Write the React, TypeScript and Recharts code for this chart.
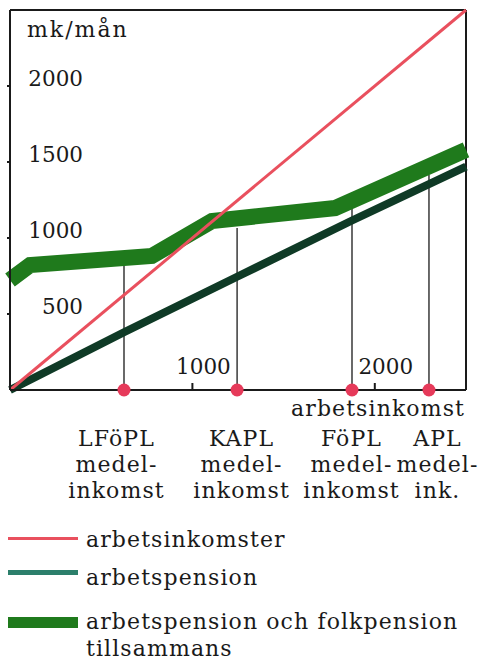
import { LineChart, Line, XAxis, YAxis, ReferenceLine, ReferenceDot } from 'recharts';

// arbetsinkomst (x) och belopp (y), mk/mån
const incomeX = [0, 2500];
const incomeY = [0, 2500];

const pensionX = [0, 625, 1245, 1875, 2500];
const pensionY = [0, 380, 745, 1115, 1470];

const totalX = [0, 110, 778, 1107, 1782, 2500];
const totalY = [724, 822, 882, 1112, 1197, 1580];

const groupNames = ['LFöPL', 'KAPL', 'FöPL', 'APL'];
const groupSub = [['medel-', 'inkomst'], ['medel-', 'inkomst'], ['medel-', 'inkomst'], ['medel-', 'ink.']];
const groupIncome = [625, 1245, 1875, 2297];
const groupLineTop = [816, 1066, 1190, 1414];

const yTicks = [500, 1000, 1500, 2000];
const xTicks = [1000, 2000];

const legendLabels = [['arbetsinkomster'], ['arbetspension'], ['arbetspension och folkpension', 'tillsammans']];

const RED = '#e9505e';
const DARK = '#0f3a26';
const GREEN = '#1f7a1c';
const TEAL = '#2c7f6b';
const INK = '#1a1a1a';
const FONT = '"DejaVu Serif", serif';
const WORD_SPACING = 1.1;

const toPoints = (xs: number[], ys: number[]) => xs.map((x, i) => ({ x, y: ys[i] }));

// label nudges so the text blocks sit like in the print
const groupDx = [-1, 11, 6, 15];

const YTick = ({ x, y, payload }: any) => (
  <text x={x + 78} y={y - 8} textAnchor="end" dominantBaseline="central" fill={INK} fontSize={21.5} fontFamily={FONT}>
    {payload.value}
  </text>
);

const XTick = ({ x, y, payload }: any) => (
  <text x={x + 11} y={y - 15} textAnchor="middle" dominantBaseline="central" fill={INK} fontSize={21.5} fontFamily={FONT}>
    {payload.value}
  </text>
);

const groupLabel = (i: number) => (p: any) => {
  const cx = p.viewBox.x + groupDx[i];
  const cy = p.viewBox.y;
  const lines = [groupNames[i], ...groupSub[i]];
  return (
    <g>
      {lines.map((t, k) => (
        <text key={k} x={cx} y={cy + 55 + k * 26} textAnchor="middle" dominantBaseline="central" fill={INK} fontSize={22} letterSpacing={WORD_SPACING} fontFamily={FONT}>
          {t}
        </text>
      ))}
    </g>
  );
};

export default function App() {
  const swatches = [
    { color: RED, h: 3, mt: 12 },
    { color: TEAL, h: 5, mt: 7 },
    { color: GREEN, h: 11, mt: 10 },
  ];
  const rowTop = [525, 563, 607];

  return (
    <div style={{ position: 'absolute', left: 0, top: 0, width: 483, height: 661, background: '#fff', fontFamily: FONT, overflow: 'hidden' }}>
      <LineChart width={483} height={510} margin={{ top: 10, right: 17, left: 0, bottom: 120 }}>
        <XAxis
          dataKey="x"
          type="number"
          domain={[0, 2500]}
          ticks={xTicks}
          mirror
          height={30}
          tickSize={7}
          stroke={INK}
          strokeWidth={2}
          tick={<XTick />}
        />
        <YAxis
          type="number"
          domain={[0, 2500]}
          ticks={yTicks}
          width={10}
          tickSize={3}
          tickMargin={2}
          stroke={INK}
          strokeWidth={2}
          tick={<YTick />}
          label={(p: any) => (
            <text x={p.viewBox.x + 27} y={p.viewBox.y + 19} dominantBaseline="central" fill={INK} fontSize={22} letterSpacing={2} fontFamily={FONT}>
              mk/mån
            </text>
          )}
        />
        <ReferenceLine y={2500} stroke={INK} strokeWidth={2} />
        <ReferenceLine
          x={2500}
          stroke={INK}
          strokeWidth={2}
          label={(p: any) => (
            <text x={p.viewBox.x - 1} y={p.viewBox.y + p.viewBox.height + 18} textAnchor="end" dominantBaseline="central" fill={INK} fontSize={22} letterSpacing={WORD_SPACING} fontFamily={FONT}>
              arbetsinkomst
            </text>
          )}
        />
        {groupIncome.map((gx, i) => (
          <ReferenceLine
            key={groupNames[i]}
            segment={[{ x: gx, y: 0 }, { x: gx, y: groupLineTop[i] }]}
            stroke={INK}
            strokeWidth={1.3}
          />
        ))}
        <Line data={toPoints(pensionX, pensionY)} dataKey="y" stroke={DARK} strokeWidth={8} dot={false} isAnimationActive={false} />
        <Line data={toPoints(totalX, totalY)} dataKey="y" stroke={GREEN} strokeWidth={16} dot={false} isAnimationActive={false} />
        <Line data={toPoints(incomeX, incomeY)} dataKey="y" stroke={RED} strokeWidth={3} dot={false} isAnimationActive={false} />
        {groupIncome.map((gx, i) => (
          <ReferenceDot key={'d' + groupNames[i]} x={gx} y={0} r={6.5} fill="#e63a5a" stroke="none" label={groupLabel(i)} />
        ))}
      </LineChart>
      {legendLabels.map((label, i) => (
        <div key={label[0]} style={{ position: 'absolute', left: 8, top: rowTop[i], display: 'flex', alignItems: 'flex-start' }}>
          <div style={{ width: 70, height: swatches[i].h, marginTop: swatches[i].mt, background: swatches[i].color, flexShrink: 0 }} />
          <div style={{ marginLeft: 8, fontSize: 22, letterSpacing: WORD_SPACING, color: INK, whiteSpace: 'nowrap' }}>
            {label.map((t, k) => (
              <div key={k} style={{ lineHeight: k === 0 ? '30px' : '24px' }}>{t}</div>
            ))}
          </div>
        </div>
      ))}
    </div>
  );
}
